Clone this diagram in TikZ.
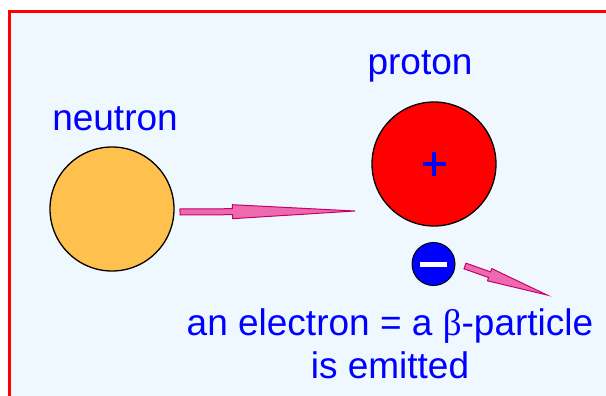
\documentclass[tikz,border=0pt]{standalone}
\usepackage{fontspec}
\setmainfont{Liberation Sans}
\newfontfamily\grk{Liberation Serif}
\usetikzlibrary{calc}
\definecolor{bg}{HTML}{F0F8FF}
\definecolor{nfill}{HTML}{FFC14D}
\definecolor{rayfill}{HTML}{EE6AAE}
\definecolor{raydraw}{HTML}{C8006E}
\newcommand\betaray[5]{% start, end, fraction, shaft hw, head hw
  \coordinate (m) at ($(#1)!#3!(#2)$);
  \fill[rayfill,draw=raydraw,line width=1pt,line join=miter]
    ($(#1)!#4pt!90:(#2)$) -- ($(m)!#4pt!90:(#2)$) -- ($(m)!#5pt!90:(#2)$) -- (#2)
    -- ($(m)!#5pt!-90:(#2)$) -- ($(m)!#4pt!-90:(#2)$) -- ($(#1)!#4pt!-90:(#2)$) -- cycle;
}
\tikzset{
  lbl/.style={text=blue,font=\fontsize{37}{43}\selectfont,inner sep=0pt,align=center},
  particle/.style={circle,draw=black,line width=1.3pt,inner sep=0pt}
}
\begin{document}
\begin{tikzpicture}[x=1pt,y=-1pt]
\useasboundingbox (0,0) rectangle (606,396);
\draw[red,line width=3.2pt,fill=bg] (9.5,11.5) rectangle (625,415);
\node[particle,fill=nfill,minimum size=124] (neutron) at (112,209) {};
\node[particle,fill=red,minimum size=124] (proton) at (434,164) {};
\node[particle,fill=blue,minimum size=43,line width=1pt] (electron) at (433.5,264) {};
\fill[blue] ($(proton)+(-11.5,-2)$) rectangle ($(proton)+(11.5,2)$);
\fill[blue] ($(proton)+(-2,-11.5)$) rectangle ($(proton)+(2,11.5)$);
\fill[white] ($(electron)+(-13.5,-2.5)$) rectangle ($(electron)+(13.5,2.5)$);
\node[lbl] (nlabel) at (115,119) {neutron};
\node[lbl] (plabel) at (420,66) {proton};
\node[lbl,anchor=center] (elabel) at (390,344) {an electron = a {\grk β}-particle\\is emitted};
\coordinate (r1s) at (180,212);
\coordinate (r1e) at (355,211);
\coordinate (r2s) at (465,266);
\coordinate (r2e) at (547,295);
\betaray{r1s}{r1e}{0.3}{3}{7}
\betaray{r2s}{r2e}{0.3}{3}{6.5}
\end{tikzpicture}
\end{document}
